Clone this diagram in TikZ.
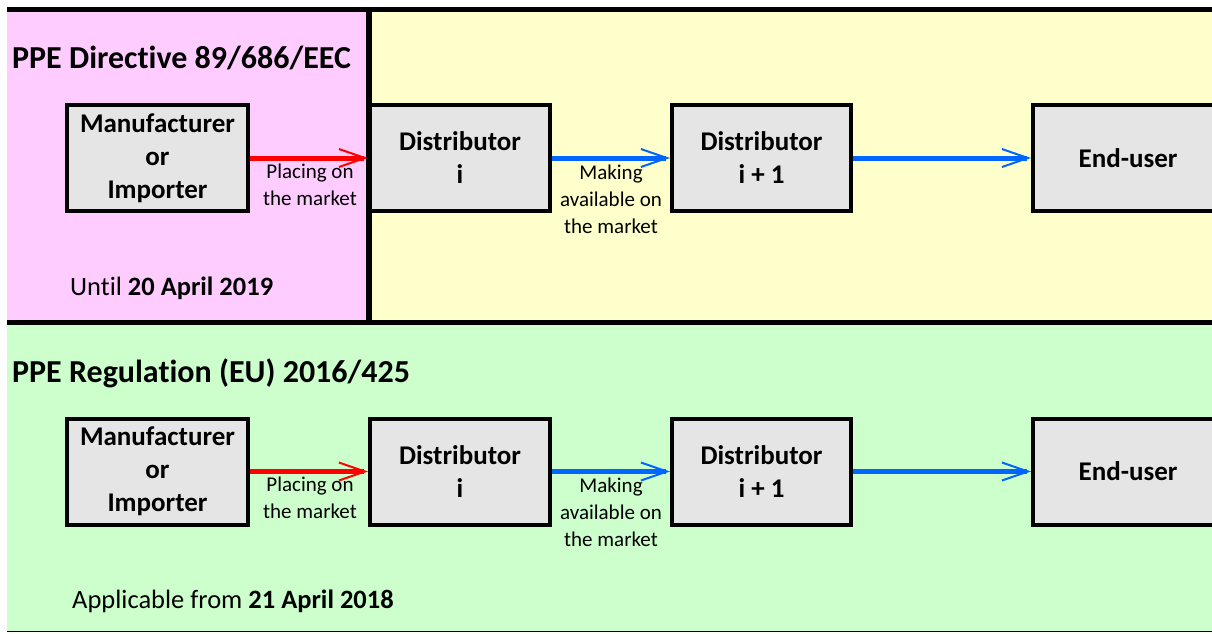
\documentclass[tikz,border=0pt]{standalone}
\usepackage{fontspec}
\setmainfont{Carlito}[Ligatures={TeX,NoCommon}]
\usetikzlibrary{arrows.meta}
\definecolor{pinkbg}{RGB}{255,204,255}
\definecolor{yellowbg}{RGB}{255,255,204}
\definecolor{greenbg}{RGB}{204,255,204}
\definecolor{boxgray}{RGB}{229,229,229}
\definecolor{arrred}{RGB}{255,0,0}
\definecolor{arrblue}{RGB}{0,102,255}
\tikzset{
  actor/.style={draw=black, line width=4pt, fill=boxgray, minimum width=180pt, minimum height=106pt,
    inner sep=0pt, align=center, font=\bfseries\fontsize{27}{33}\selectfont},
  flowlabel/.style={inner sep=0pt, align=center, font=\fontsize{21}{27}\selectfont},
  title/.style={anchor=base west, inner sep=0pt, font=\bfseries\fontsize{32}{38}\selectfont},
  note/.style={anchor=base west, inner sep=0pt, font=\fontsize{26.5}{30}\selectfont},
  flow/.style={line width=5pt, -{Straight Barb[length=26pt,width=18pt,line width=2pt]}},
  placing/.style={flow, draw=arrred},
  making/.style={flow, draw=arrblue}
}
\begin{document}
\begin{tikzpicture}[x=1pt,y=-1pt]
\useasboundingbox (0,0) rectangle (1212,633);
\clip (0,0) rectangle (1212,633);
% backgrounds
\fill[white] (0,0) rectangle (1212,633);
\fill[pinkbg] (7,12) rectangle (369,323);
\fill[yellowbg] (369,12) rectangle (1212,323);
\fill[greenbg] (7,323) rectangle (1212,632);
% frame lines
\draw[line width=5pt] (7,9.5) -- (1212,9.5);
\draw[line width=5pt] (7,322.5) -- (1212,322.5);
\draw[line width=6pt] (369,7) -- (369,325);
\draw[line width=1.5pt] (7,631.5) -- (1212,631.5);
% titles
\node[title] (t1) at (12,68) {PPE Directive 89/686/EEC};
\node[title] (t2) at (12,382) {PPE Regulation (EU) 2016/425};
% top row
\node[actor, minimum width=181pt] (m1) at (157.5,158) {Manufacturer\\or\\Importer};
\node[actor] (d1) at (460,158) {Distributor\\i};
\node[actor, minimum width=179pt] (n1) at (761.5,158) {Distributor\\i + 1};
\node[actor, minimum width=190pt] (u1) at (1128,158) {End-user};
% bottom row
\node[actor, minimum width=181pt] (m2) at (157.5,471.5) {Manufacturer\\or\\Importer};
\node[actor] (d2) at (460,471.5) {Distributor\\i};
\node[actor, minimum width=179pt] (n2) at (761.5,471.5) {Distributor\\i + 1};
\node[actor, minimum width=190pt] (u2) at (1128,471.5) {End-user};
% arrows
\draw[placing] (m1.east) -- (d1.west);
\draw[making] (d1.east) -- (n1.west);
\draw[making] (n1.east) -- (u1.west);
\draw[placing] (m2.east) -- (d2.west);
\draw[making] (d2.east) -- (n2.west);
\draw[making] (n2.east) -- (u2.west);
% labels
\node[flowlabel] (l1) at (310,185) {Placing on\\the market};
\node[flowlabel] (l2) at (611,199) {Making\\available on\\the market};
\node[flowlabel] (l3) at (310,498) {Placing on\\the market};
\node[flowlabel] (l4) at (611,512) {Making\\available on\\the market};
% dates
\node[note] (until) at (70,295) {Until \textbf{20 April 2019}};
\node[note] (from) at (72,608) {Applicable from \textbf{21 April 2018}};
\end{tikzpicture}
\end{document}
